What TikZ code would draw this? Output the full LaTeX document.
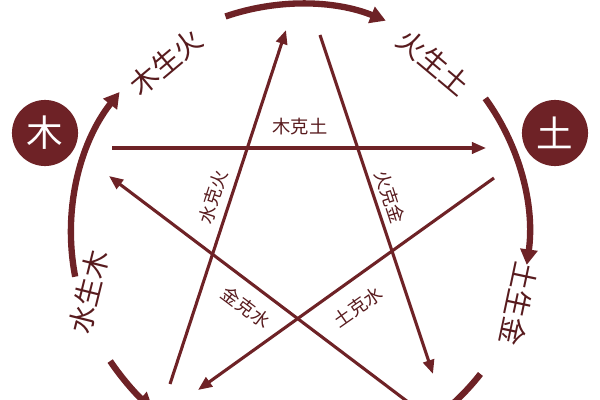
\documentclass[tikz,border=0pt]{standalone}
\usepackage{fontspec}
\newfontfamily\cjk{Noto Sans CJK SC}
\usetikzlibrary{arrows.meta}
\definecolor{wxred}{HTML}{6E2226}

\begin{document}
\begin{tikzpicture}[x=0.025cm, y=-0.025cm,
    ke/.style={wxred, line width=2.2pt, -{Triangle[length=10pt,width=8pt]}},
    sheng/.style={wxred, line width=4.5pt, -{Triangle[length=11pt,width=12pt]}},
    klabel/.style={text=wxred!80!black, inner sep=1pt, font=\cjk\fontsize{13}{13}\selectfont},
    slabel/.style={text=wxred!80!black, inner sep=1pt, font=\cjk\fontsize{20}{20}\selectfont},
    elem/.style={circle, fill=wxred, text=white, minimum size=47pt, inner sep=0pt, font=\cjk\fontsize{26}{26}\selectfont}]

          \useasboundingbox (0,0) rectangle (600,400);
          \clip (0,0) rectangle (600,400);

          % outer cycle
          \draw[sheng] (300,233) ++(-109:229) arc[start angle=-109, end angle=-68, radius=229];
          \draw[sheng] (300,233) ++(-36:229) arc[start angle=-36, end angle=8, radius=229];
          \draw[sheng] (300,233) ++(38:229) arc[start angle=38, end angle=75, radius=229];
          \draw[sheng] (300,233) ++(146:229) arc[start angle=146, end angle=130, radius=229];
          \draw[sheng] (300,233) ++(169:229) arc[start angle=169, end angle=218, radius=229];

          \node[elem] (mu) at (45,133) {木};
          \node[elem] (tu) at (555,133) {土};

          \node[slabel, rotate=40] (mshh) at (166,62) {木生火};
          \node[slabel, rotate=-40] (hsht) at (434,62) {火生土};
          \node[slabel, rotate=-102] (tshj) at (519,304) {土生金};
          \node[slabel, rotate=76] (sshm) at (89,292) {水生木};

          % inner star
          \coordinate (a1) at (112,148);  \coordinate (a2) at (486,148);
          \coordinate (b1) at (170,384);  \coordinate (b2) at (286,30);
          \coordinate (c1) at (320,35);   \coordinate (c2) at (433,374);
          \coordinate (d1) at (494,178);  \coordinate (d2) at (198,390);
          \coordinate (e1) at (408,402);  \coordinate (e2) at (109,176);

          \draw[ke] (a1) -- (a2);
          \draw[ke] (b1) -- (b2);
          \draw[ke] (c1) -- (c2);
          \draw[ke] (d1) -- (d2);
          \draw[ke] (e1) -- (e2);

          \node[klabel] (mkt) at (300,127) {木克土};
          \node[klabel, rotate=72] (skh) at (213,197) {水克火};
          \node[klabel, rotate=-72] (hkj) at (390,197) {火克金};
          \node[klabel, rotate=-37] (jks) at (246,307) {金克水};
          \node[klabel, rotate=35] (tks) at (358,307) {土克水};
        \end{tikzpicture}
\end{document}
